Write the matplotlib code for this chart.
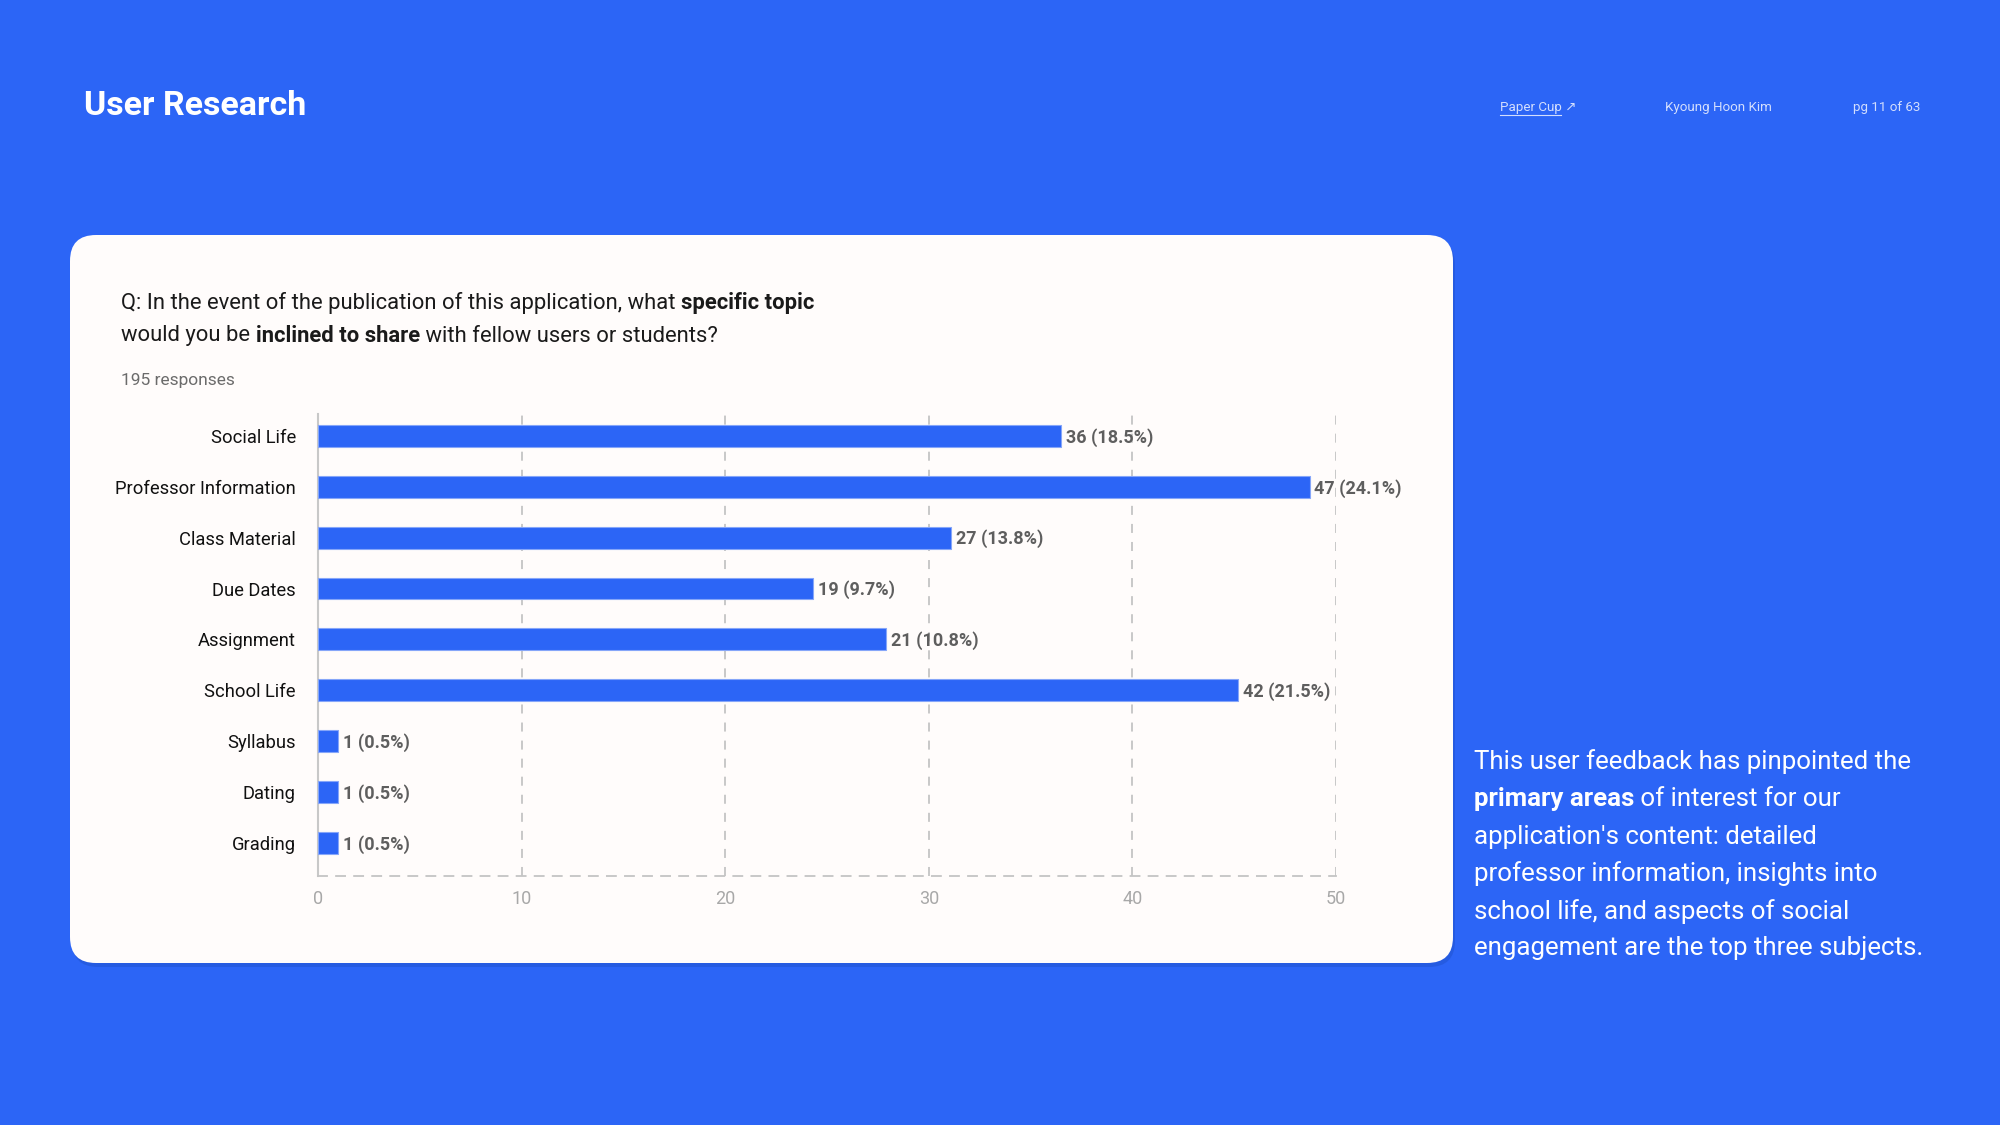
import numpy as np
from matplotlib import pyplot as plt
from matplotlib.patches import FancyBboxPatch

# survey answers, top to bottom
categories = ['Social Life', 'Professor Information', 'Class Material', 'Due Dates',
              'Assignment', 'School Life', 'Syllabus', 'Dating', 'Grading']
counts = [36, 47, 27, 19, 21, 42, 1, 1, 1]
percents = [18.5, 24.1, 13.8, 9.7, 10.8, 21.5, 0.5, 0.5, 0.5]
# bar ends as drawn in the reference, read against its x axis
# (the drawn bars do not follow the counts exactly)
bar_length = [36.5, 48.7, 31.1, 24.3, 27.9, 45.2, 1.0, 1.0, 1.0]
x_ticks = [0, 10, 20, 30, 40, 50]

title = 'User Research'
header_items = ['Paper Cup \u2197', 'Kyoung Hoon Kim', 'pg 11 of 63']
question_lines = [
    [('Q: In the event of the publication of this application, what ', 'normal'),
     ('specific topic', 'bold')],
    [('would you be ', 'normal'), ('inclined to share', 'bold'),
     (' with fellow users or students?', 'normal')],
]
responses = '195 responses'
summary_lines = [
    [('This user feedback has pinpointed the', 'normal')],
    [('primary areas', 'bold'), (' of interest for our', 'normal')],
    [("application's content: detailed", 'normal')],
    [('professor information, insights into', 'normal')],
    [('school life, and aspects of social', 'normal')],
    [('engagement are the top three subjects.', 'normal')],
]

BLUE = '#2C65F6'
CARD = '#FFFCFB'
FONT = ['Roboto', 'DejaVu Sans']

plt.rcParams['font.family'] = FONT

fig = plt.figure(figsize=(20, 11.25), dpi=100, facecolor=BLUE)
renderer = fig.canvas.get_renderer()

# background layer in pixel coordinates (y down)
bg = fig.add_axes([0, 0, 1, 1])
bg.set_xlim(0, 2000)
bg.set_ylim(1125, 0)
bg.axis('off')

shadow = FancyBboxPatch((72, 239), 1383, 728, boxstyle='round,pad=0,rounding_size=26',
                        fc='#1E4FC9', ec='none', alpha=0.45)
bg.add_patch(shadow)
card = FancyBboxPatch((70, 235), 1383, 728, boxstyle='round,pad=0,rounding_size=26',
                      fc=CARD, ec='none')
bg.add_patch(card)


def rich_line(ax, x, y, parts, **kw):
    """Draws text segments one after another on one line."""
    for txt, weight in parts:
        t = ax.text(x, y, txt, fontweight=weight, va='center', ha='left', **kw)
        bb = t.get_window_extent(renderer=renderer)
        x = bb.x1


bg.text(84, 106, title, fontsize=24.5, fontweight='bold', color='white', va='center')

header_x = [1500, 1665, 1853]
for hx, item in zip(header_x, header_items):
    bg.text(hx, 107, item, fontsize=9.6, color='#D3DEFD', va='center')
bg.plot([1500, 1561], [115, 115], color='#D3DEFD', lw=0.8)

for i, parts in enumerate(question_lines):
    rich_line(bg, 121, 303 + i * 33, parts, fontsize=15.8, color='#1A1A1A')
bg.text(121, 380, responses, fontsize=12.5, color='#6B6B6B', va='center')

for i, parts in enumerate(summary_lines):
    rich_line(bg, 1474, 762 + i * 37.3, parts, fontsize=18.6, color='white')

# chart
ax = fig.add_axes([318 / 2000, 1 - 876 / 1125, 1018 / 2000, (876 - 414) / 1125])
ax.set_facecolor('none')
y = np.arange(len(categories))
ax.barh(y, bar_length, height=0.43, color=BLUE, edgecolor='#86A6F9', linewidth=0.8, zorder=3)

for yi, length, c, p in zip(y, bar_length, counts, percents):
    ax.annotate(f'{c} ({p}%)', (length, yi), xytext=(3.5, -1), textcoords='offset points',
                va='center', ha='left', fontsize=13, fontweight='bold', color='#5E5E5E')

ax.set_xlim(0, 50)
ax.set_ylim(8.65, -0.43)
ax.set_xticks(x_ticks)
ax.set_yticks(y)
ax.set_yticklabels(categories)
ax.tick_params(axis='x', length=0, pad=10, labelsize=13, labelcolor='#A8A8A8')
ax.tick_params(axis='y', length=0, pad=16, labelsize=13.2, labelcolor='#111111')

ax.grid(axis='x', color='#C4C4C4', linestyle=(0, (5, 5)), linewidth=1.3, zorder=0)
for side in ['top', 'right']:
    ax.spines[side].set_visible(False)
ax.spines['left'].set_color('#C8C8C8')
ax.spines['left'].set_linewidth(1.5)
ax.spines['bottom'].set_color('#C4C4C4')
ax.spines['bottom'].set_linewidth(1.3)
ax.spines['bottom'].set_linestyle((0, (5, 5)))

fig.savefig('out.png', dpi=100, facecolor=BLUE)
